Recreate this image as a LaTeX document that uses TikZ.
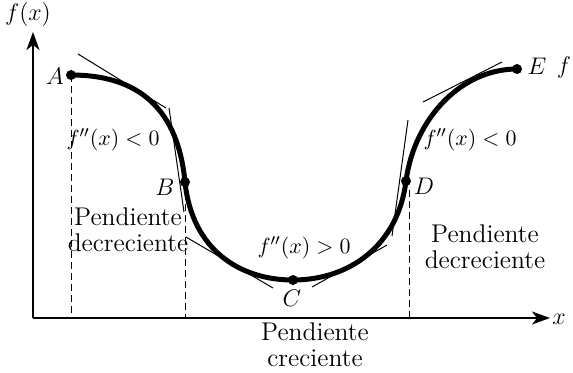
\documentclass[tikz,border=0pt]{standalone}
\usetikzlibrary{arrows.meta}
\begin{document}
\begin{tikzpicture}[x=0.5pt,y=-0.5pt,
  every node/.style={font=\fontsize{12}{13}\selectfont, inner sep=0pt},
  axis/.style={line width=0.75pt, -{Stealth[length=9pt,width=6.5pt,inset=2.5pt]}},
  curve/.style={line width=2.5pt},
  tang/.style={line width=0.5pt},
  guide/.style={line width=0.5pt, dash pattern=on 3.5pt off 2pt},
  dot/.style={circle, fill=black, minimum size=5pt, inner sep=0pt},
  mlab/.style={font=\fontsize{11.3}{13}\selectfont},
  txt/.style={align=center, font=\fontsize{12.8}{13}\selectfont}]
\useasboundingbox (0,0) rectangle (573,372);
% axes
\coordinate (O) at (33,318);
\coordinate (Ytip) at (33,32);
\coordinate (Xtip) at (550,318);
\draw[axis] (O) -- (Ytip);
\draw[axis] (O) -- (Xtip);
\node (fx) at (28,14) {$f(x)$};
\node (xl) at (559,319) {$x$};
% points
\coordinate (A) at (71,75);
\coordinate (B) at (185,182);
\coordinate (C) at (293,280);
\coordinate (D) at (406,181);
\coordinate (E) at (517,69);
% dashed guides
\coordinate (Ab) at (71,318);
\coordinate (Bb) at (185,318);
\coordinate (Db) at (409,318);
\coordinate (Dt) at (409,190);
\draw[guide] (A) -- (Ab);
\draw[guide] (B) -- (Bb);
\draw[guide] (Dt) -- (Db);
% tangents
\coordinate (t1a) at (78,54);   \coordinate (t1b) at (166,108);
\coordinate (t2a) at (169,108); \coordinate (t2b) at (184,212);
\coordinate (t3a) at (186,237); \coordinate (t3b) at (273,288);
\coordinate (t4a) at (312,287); \coordinate (t4b) at (387,245);
\coordinate (t5a) at (408,120); \coordinate (t5b) at (392,236);
\coordinate (t6a) at (423,102); \coordinate (t6b) at (502,62);
\draw[tang] (t1a) -- (t1b);
\draw[tang] (t2a) -- (t2b);
\draw[tang] (t3a) -- (t3b);
\draw[tang] (t4a) -- (t4b);
\draw[tang] (t5a) -- (t5b);
\draw[tang] (t6a) -- (t6b);
% curve
\draw[curve] (A) .. controls (140,75) and (178,110) .. (B)
  .. controls (192,250) and (240,280) .. (C)
  .. controls (350,280) and (398,245) .. (D)
  .. controls (414,120) and (460,69) .. (E);
\node[dot] (pA) at (A) {};
\node[dot] (pB) at (B) {};
\node[dot] (pC) at (C) {};
\node[dot] (pD) at (D) {};
\node[dot] (pE) at (E) {};
% point labels
\node (lA) at (55,76) {$A$};
\node (lB) at (165,187) {$B$};
\node (lC) at (292,298) {$C$};
\node (lD) at (424,186) {$D$};
\node (lE) at (537,66) {$E$};
\node (lf) at (564,67) {$f$};
% region labels
\node[mlab] (k1) at (113,140) {$f''(x) < 0$};
\node[mlab] (k2) at (470,140) {$f''(x) < 0$};
\node[mlab] (k3) at (304,248) {$f''(x) > 0$};
\node[txt] (p1) at (128,230) {Pendiente\\decreciente};
\node[txt] (p2) at (485,247) {Pendiente\\decreciente};
\node[txt] (p3) at (315,345) {Pendiente\\creciente};
\end{tikzpicture}
\end{document}
